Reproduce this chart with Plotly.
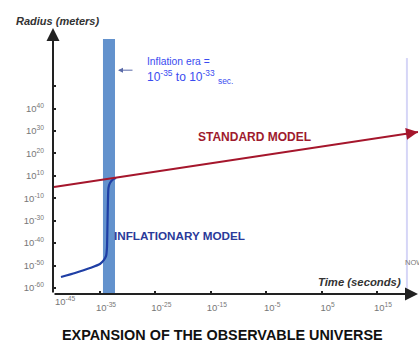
import plotly.graph_objects as go

W, H = 419, 344

# ---- data (exponents of ten, as drawn on the schematic axes) ----
time_tick_vals = [-35, -25, -15, -5, 5, 15]
time_tick_text = ["10<sup>-35</sup>", "10<sup>-25</sup>", "10<sup>-15</sup>",
                  "10<sup>-5</sup>", "10<sup>5</sup>", "10<sup>15</sup>"]
first_time_label = "10<sup>-45</sup>"
first_time_label_pos = -41.3

radius_tick_vals = [-60, -50, -40, -30, -20, -10, 0, 10, 20, 30]
radius_tick_text = ["10<sup>-60</sup>", "10<sup>-50</sup>", "10<sup>-40</sup>",
                    "10<sup>-30</sup>", "10<sup>-10</sup>", "10<sup>10</sup>",
                    "10<sup>20</sup>", "10<sup>30</sup>", "10<sup>40</sup>", ""]

standard_time = [-43.3, 22.4]
standard_radius = [-15.0, 9.5]

inflationary_time = [-42.04, -39.5, -36.8, -35.0, -34.28, -33.9, -33.74,
                     -33.65, -33.56, -33.47, -33.2, -32.65, -32.1]
inflationary_radius = [-55.1, -53.3, -51.1, -49.3, -47.5, -45.7, -42.2,
                       -31.9, -20.8, -15.4, -13.2, -11.6, -11.0]

inflation_start, inflation_end = -34.46, -32.29
inflation_band_top = 50.96
now_time = 20.4
now_line_top = 42.5

x_min, x_max = -43.48, 22.4
y_min, y_max = -62.67, 55.9

FONT = "Liberation Sans, Arial, sans-serif"


def px(x):
    return x / W


def py(y):
    return 1 - y / H


fig = go.Figure()

# inflationary model curve
fig.add_trace(go.Scatter(
    x=inflationary_time, y=inflationary_radius, mode="lines",
    line=dict(color="#1f3fa5", width=2.2, shape="spline", smoothing=0.5),
    hoverinfo="skip", showlegend=False))

# standard model line
fig.add_trace(go.Scatter(
    x=standard_time, y=standard_radius, mode="lines",
    line=dict(color="#a5162c", width=2),
    hoverinfo="skip", showlegend=False))

shapes = [
    dict(type="rect", xref="x", yref="y", x0=inflation_start, x1=inflation_end,
         y0=y_min, y1=inflation_band_top, fillcolor="#6392cd",
         line=dict(width=0), layer="below"),
    dict(type="line", xref="x", yref="y", x0=now_time, x1=now_time,
         y0=y_min, y1=now_line_top, line=dict(color="#d6d6f7", width=2),
         layer="below"),
]

ann = []
# axes with arrowheads
ann.append(dict(x=x_max, y=y_min, ax=x_min, ay=y_min, xref="x", yref="y",
                axref="x", ayref="y", text="", showarrow=True, arrowhead=2,
                arrowsize=1.3, arrowwidth=2, arrowcolor="#222"))
ann.append(dict(x=x_min, y=y_max, ax=x_min, ay=y_min, xref="x", yref="y",
                axref="x", ayref="y", text="", showarrow=True, arrowhead=2,
                arrowsize=1.3, arrowwidth=2, arrowcolor="#222"))
# standard model arrowhead
sl = (standard_radius[1] - standard_radius[0]) / (standard_time[1] - standard_time[0])
ann.append(dict(x=standard_time[1], y=standard_radius[1],
                ax=standard_time[1] - 2.5, ay=standard_radius[1] - 2.5 * sl,
                xref="x", yref="y", axref="x", ayref="y", text="",
                showarrow=True, arrowhead=2, arrowsize=1.2, arrowwidth=2,
                arrowcolor="#a5162c"))
# inflation era pointer
ann.append(dict(x=-31.75, y=37.1, ax=-28.86, ay=37.1, xref="x", yref="y",
                axref="x", ayref="y", text="", showarrow=True, arrowhead=2,
                arrowsize=1, arrowwidth=1, arrowcolor="#5a6aa8"))

# first x label
ann.append(dict(x=first_time_label_pos, y=py(309), xref="x", yref="paper",
                text=first_time_label, showarrow=False,
                font=dict(family=FONT, size=9.5, color="#777")))

texts = [
    ("<b><i>Radius (meters)</i></b>", 57, 21, 11, "#333", "center"),
    ("Inflation era =", 145, 62, 10.3, "#3a4cf0", "left"),
    ("10<sup>-35</sup> to 10<sup>-33</sup> <sub>sec.</sub>", 145, 77, 12, "#3a4cf0", "left"),
    ("<b>STANDARD MODEL</b>", 254, 137, 12, "#9e1a2e", "center"),
    ("<b>INFLATIONARY MODEL</b>", 179, 235, 11.7, "#2a3a9a", "center"),
    ("<b><i>Time (seconds)</i></b>", 359, 282, 11.3, "#333", "center"),
    ("NOW", 403, 262, 7.5, "#777", "left"),
    ("<b>EXPANSION OF THE OBSERVABLE UNIVERSE</b>", 222.5, 335, 14.4, "#111", "center"),
]
for t, x, y, s, c, a in texts:
    ann.append(dict(x=px(x), y=py(y), xref="paper", yref="paper", text=t,
                    showarrow=False, xanchor=a, yanchor="middle",
                    font=dict(family=FONT, size=s, color=c)))

fig.update_layout(
    width=W, height=H, margin=dict(l=0, r=0, t=0, b=0),
    paper_bgcolor="white", plot_bgcolor="white",
    shapes=shapes, annotations=ann, showlegend=False,
    xaxis=dict(domain=[px(53), px(418)], range=[x_min, x_max],
               showgrid=False, zeroline=False, showline=False,
               tickvals=time_tick_vals, ticktext=time_tick_text,
               ticks="inside", ticklen=3, tickwidth=2, tickcolor="#222",
               ticklabelshift=6, ticklabelstandoff=6,
               tickfont=dict(family=FONT, size=9.5, color="#777")),
    yaxis=dict(domain=[py(294), py(28)], range=[y_min, y_max],
               showgrid=False, zeroline=False, showline=False,
               tickvals=radius_tick_vals, ticktext=radius_tick_text,
               ticks="inside", ticklen=3, tickwidth=2, tickcolor="#222",
               ticklabelstandoff=8,
               tickfont=dict(family=FONT, size=9.5, color="#777")),
)

fig.write_html("out.html")
